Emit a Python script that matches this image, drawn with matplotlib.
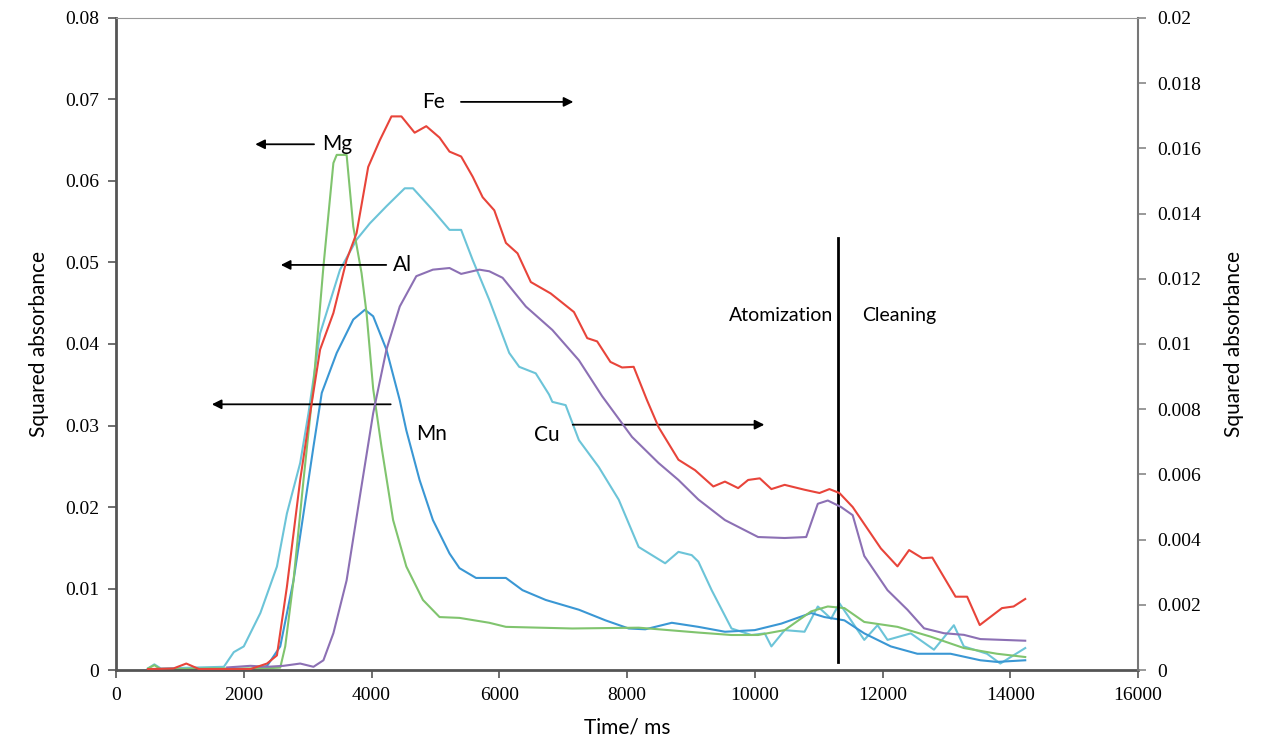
import numpy as np
import matplotlib.pyplot as plt

# time axis (ms) and signals
# left-axis elements (squared absorbance, 0-0.08)
mg_t = [500, 600, 700, 1500, 2300, 2571, 2649, 2779, 2935, 3091, 3247, 3403, 3455, 3610, 3714, 3844,
        3922, 4026, 4156, 4338, 4545, 4805, 5065, 5377, 5844, 6104, 7143, 8182, 9117, 9636, 10052,
        10468, 10883, 11143, 11403, 11714, 12234, 12753, 13273, 13792, 14234]
mg_v = [0.0002, 0.0006, 0.0001, 0.0002, 0.0002, 0.0003, 0.0029, 0.011, 0.0233, 0.035, 0.0495, 0.0622,
        0.0632, 0.0632, 0.0544, 0.0487, 0.0438, 0.0345, 0.0274, 0.0184, 0.0127, 0.0086, 0.0065, 0.0064,
        0.0058, 0.0053, 0.0051, 0.0052, 0.0046, 0.0043, 0.0043, 0.0049, 0.0072, 0.0078, 0.0076,
        0.0059, 0.0053, 0.0041, 0.0027, 0.002, 0.0016]

al_t = [500, 600, 700, 1200, 1688, 1844, 2000, 2260, 2519, 2675, 2883, 3013, 3195, 3506, 3766, 3974,
        4234, 4520, 4649, 4961, 5221, 5403, 5584, 5844, 6156, 6312, 6571, 6779, 6831, 7039, 7247,
        7558, 7870, 8182, 8597, 8805, 9013, 9117, 9325, 9636, 9948, 10156, 10260, 10468, 10779,
        10987, 11195, 11325, 11506, 11714, 11922, 12078, 12442, 12805, 13117, 13273, 13636, 13844,
        14234]
al_v = [0.0002, 0.0007, 0.0002, 0.0003, 0.0004, 0.0022, 0.0029, 0.007, 0.0127, 0.0192, 0.0254, 0.0315,
        0.0413, 0.0491, 0.0528, 0.0548, 0.0569, 0.0591, 0.0591, 0.0564, 0.054, 0.054, 0.0503, 0.0454,
        0.0389, 0.0372, 0.0364, 0.0338, 0.0329, 0.0325, 0.0282, 0.0249, 0.0209, 0.0151, 0.0131,
        0.0145, 0.0141, 0.0133, 0.0098, 0.0051, 0.0043, 0.0045, 0.0029, 0.0049, 0.0047, 0.0078,
        0.0063, 0.0082, 0.0061, 0.0037, 0.0055, 0.0037, 0.0045, 0.0025, 0.0055, 0.0029, 0.002, 0.0008,
        0.0027]

mn_t = [500, 1500, 2104, 2364, 2571, 2779, 2935, 3091, 3221, 3455, 3714, 3896, 4026, 4234, 4442, 4545,
        4753, 4961, 5221, 5377, 5636, 6104, 6364, 6727, 7247, 7662, 8026, 8286, 8701, 9117, 9533,
        10000, 10416, 10883, 11091, 11403, 11714, 12130, 12545, 13065, 13532, 13792, 14234]
mn_v = [0.0001, 0.0001, 0.0001, 0.0005, 0.0029, 0.011, 0.0192, 0.0274, 0.034, 0.0389, 0.043, 0.0442,
        0.0434, 0.0393, 0.0331, 0.0294, 0.0233, 0.0184, 0.0143, 0.0125, 0.0113, 0.0113, 0.0098,
        0.0086, 0.0074, 0.0061, 0.0051, 0.005, 0.0058, 0.0053, 0.0047, 0.0049, 0.0057, 0.007, 0.0065,
        0.0061, 0.0045, 0.0029, 0.002, 0.002, 0.0012, 0.001, 0.0012]

# right-axis elements (squared absorbance, 0-0.02)
fe_t = [500, 900, 1100, 1300, 2104, 2364, 2519, 2675, 2883, 3039, 3195, 3403, 3610, 3766, 3948, 4130,
        4312, 4468, 4675, 4857, 5065, 5221, 5403, 5584, 5740, 5922, 6104, 6286, 6494, 6805, 7169,
        7377, 7532, 7740, 7922, 8104, 8312, 8494, 8805, 9065, 9351, 9533, 9740, 9896, 10078, 10260,
        10468, 10779, 11013, 11169, 11325, 11533, 11974, 12234, 12416, 12624, 12779, 13143, 13325,
        13522, 13870, 14052, 14234]
fe_v = [0.00003, 0.00005, 0.0002, 0.00003, 0.00003, 0.0002, 0.00045, 0.00255, 0.00583, 0.00788,
        0.00983, 0.01095, 0.01258, 0.0134, 0.01543, 0.01625, 0.01698, 0.01698, 0.01648, 0.01668,
        0.01633, 0.0159, 0.01575, 0.01513, 0.0145, 0.0141, 0.0131, 0.01278, 0.0119, 0.01155, 0.01098,
        0.01018, 0.01008, 0.00945, 0.00928, 0.0093, 0.00828, 0.00745, 0.00645, 0.00613, 0.00563,
        0.00578, 0.00558, 0.00583, 0.00588, 0.00555, 0.00568, 0.00553, 0.00543, 0.00555, 0.00543,
        0.005, 0.00373, 0.00318, 0.00368, 0.00343, 0.00345, 0.00225, 0.00225, 0.00138, 0.0019,
        0.00195, 0.00218]

cu_t = [1740, 2104, 2364, 2623, 2883, 3091, 3247, 3403, 3610, 3818, 4026, 4234, 4442, 4701, 4961,
        5221, 5403, 5688, 5844, 6052, 6416, 6831, 7247, 7610, 8078, 8494, 8805, 9117, 9533, 10052,
        10468, 10805, 10987, 11143, 11351, 11533, 11714, 12078, 12390, 12650, 12961, 13273, 13532,
        14234]
cu_v = [0.00008, 0.00013, 0.0001, 0.00013, 0.0002, 0.0001, 0.0003, 0.00113, 0.00275, 0.00533,
        0.00788, 0.00983, 0.01115, 0.01208, 0.01228, 0.01233, 0.01215, 0.01228, 0.01223, 0.01203,
        0.01115, 0.01043, 0.0095, 0.0084, 0.00715, 0.00635, 0.00583, 0.00523, 0.0046, 0.00408,
        0.00405, 0.00408, 0.0051, 0.0052, 0.005, 0.00475, 0.0035, 0.00245, 0.00185, 0.00128,
        0.00113, 0.00108, 0.00095, 0.0009]

boundary_ms = 11300

plt.rcParams['font.family'] = ['Lato', 'DejaVu Sans']

fig = plt.figure(figsize=(12.68, 7.47), dpi=100)
ax = fig.add_axes([0.0915, 0.103, 0.806, 0.873])
ax2 = ax.twinx()

ax.plot(al_t, al_v, color='#6cc4d8', lw=1.5)
ax.plot(mn_t, mn_v, color='#3a97d4', lw=1.5)
ax.plot(mg_t, mg_v, color='#80c46e', lw=1.5)
ax2.plot(cu_t, cu_v, color='#8c70b4', lw=1.5)
ax2.plot(fe_t, fe_v, color='#e8443a', lw=1.5)

ax.set_xlim(0, 16000)
ax.set_ylim(0, 0.08)
ax2.set_ylim(0, 0.02)
ax.set_xticks(np.arange(0, 16001, 2000))
ax.set_yticks(np.arange(0, 0.081, 0.01))
ax2.set_yticks(np.arange(0, 0.0201, 0.002))
ax.set_yticklabels(['0'] + ['%.2f' % v for v in np.arange(0.01, 0.081, 0.01)])
ax2.set_yticklabels(['0'] + ['%g' % round(v, 3) for v in np.arange(0.002, 0.0201, 0.002)])

for lab in ax.get_xticklabels() + ax.get_yticklabels() + ax2.get_yticklabels():
    lab.set_fontfamily('Liberation Serif')
    lab.set_fontsize(14)
ax.tick_params(axis='both', direction='out', length=6, width=1.2, color='#555555', pad=6)
ax2.tick_params(axis='y', direction='out', length=6, width=1.2, color='#888888', pad=8)

for s in ['left', 'bottom']:
    ax.spines[s].set_color('#555555')
    ax.spines[s].set_linewidth(2)
ax2.spines['left'].set_visible(False)
ax2.spines['bottom'].set_visible(False)
ax2.spines['right'].set_color('#777777')
ax2.spines['right'].set_linewidth(1.5)
ax2.spines['top'].set_color('#999999')
ax.spines['top'].set_visible(False)
ax.spines['right'].set_visible(False)

ax.set_xlabel('Time/ ms', fontsize=15, labelpad=10)
ax.set_ylabel('Squared absorbance', fontsize=15, labelpad=12)
ax2.set_ylabel('Squared absorbance', fontsize=15, rotation=90, labelpad=16)

# phase boundary
ax.plot([boundary_ms, boundary_ms], [0.001, 0.053], color='black', lw=2)
ax.text(boundary_ms - 80, 0.0435, 'Atomization', ha='right', va='center', fontsize=14)
ax.text(boundary_ms + 380, 0.0435, 'Cleaning', ha='left', va='center', fontsize=14)

# labels with arrows pointing to their axis
arr = dict(arrowstyle='-|>', color='black', lw=1.3, mutation_scale=14, shrinkA=0, shrinkB=0)
ax.text(3220, 0.0645, 'Mg', ha='left', va='center', fontsize=15)
ax.annotate('', xy=(2180, 0.0645), xytext=(3100, 0.0645), arrowprops=arr)
ax.text(4330, 0.0497, 'Al', ha='left', va='center', fontsize=15)
ax.annotate('', xy=(2580, 0.0497), xytext=(4230, 0.0497), arrowprops=arr)
ax.text(4700, 0.029, 'Mn', ha='left', va='center', fontsize=15)
ax.annotate('', xy=(1500, 0.0326), xytext=(4300, 0.0326), arrowprops=arr)
ax.text(4800, 0.0697, 'Fe', ha='left', va='center', fontsize=15)
ax.annotate('', xy=(7160, 0.0697), xytext=(5400, 0.0697), arrowprops=arr)
ax.text(6550, 0.0288, 'Cu', ha='left', va='center', fontsize=15)
ax.annotate('', xy=(10150, 0.0301), xytext=(7150, 0.0301), arrowprops=arr)

fig.savefig('out.png', dpi=100)
